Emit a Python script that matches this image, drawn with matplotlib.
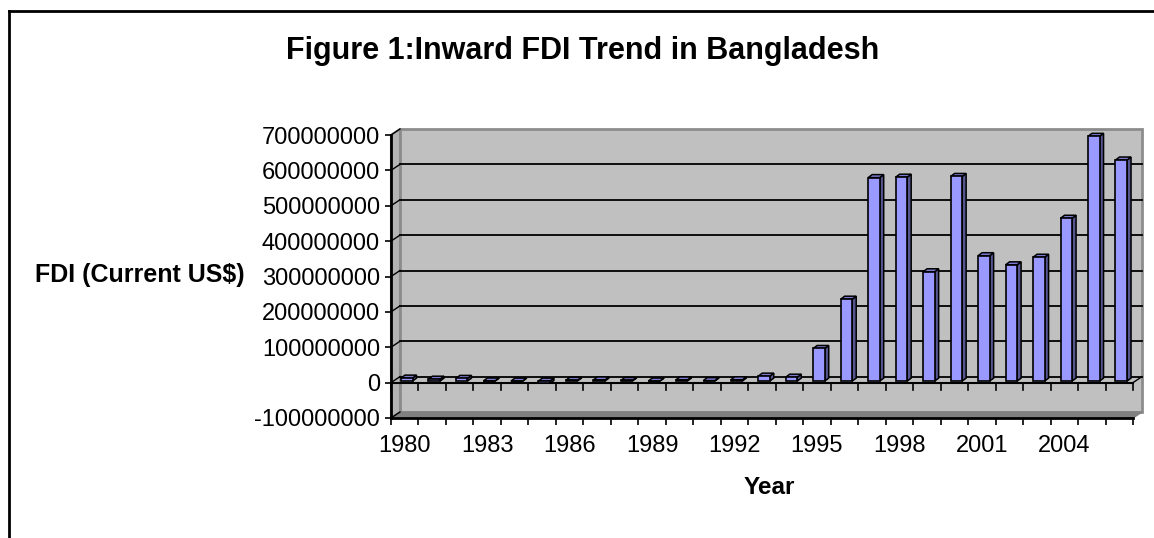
import matplotlib
matplotlib.use('Agg')
import matplotlib.pyplot as plt
from matplotlib.patches import Polygon
from matplotlib.lines import Line2D
from matplotlib.transforms import IdentityTransform, offset_copy
from matplotlib.ticker import FuncFormatter, FixedLocator

plt.rcParams['font.family'] = ['Liberation Sans', 'DejaVu Sans']

# Data (US$)
years = list(range(1980, 2007))
fdi = [8.51e6, 5.41e6, 7.67e6, 0.39e6, -0.42e6, -6.68e6, 2.44e6, 3.25e6, 1.82e6,
       0.25e6, 3.24e6, 1.39e6, 3.72e6, 14.05e6, 11.15e6, 92.3e6, 231.6e6,
       575.3e6, 576.5e6, 309.1e6, 578.6e6, 354.5e6, 328.7e6, 350.2e6,
       460.4e6, 692.0e6, 625.0e6]
yticks = [-100000000, 0, 100000000, 200000000, 300000000, 400000000,
          500000000, 600000000, 700000000]
xtick_years = years[::3]

W, H = 1154, 538
fig = plt.figure(figsize=(W / 100, H / 100), dpi=100)
ax = fig.add_axes([391 / W, 1 - 418 / H, (1133 - 391) / W, (418 - 135) / H])
n = len(years)
x0, x1 = -0.5, n - 0.5
y0, y1 = yticks[0], yticks[-1]
ax.set_xlim(x0, x1)
ax.set_ylim(y0, y1)
ax.patch.set_visible(False)

# 3D offsets in pixels
BACK = (9, 6)
BAR_F = (2, 1.5)
BAR_B = (6, 4.5)


def disp(x, y, off=(0, 0)):
    px, py = ax.transData.transform((x, y))
    return (px + off[0], py + off[1])


def poly(pts, fc, ec, lw=1.0, z=1):
    p = Polygon(pts, closed=True, facecolor=fc, edgecolor=ec, linewidth=lw,
                transform=IdentityTransform(), clip_on=False, zorder=z)
    ax.add_patch(p)


def seg(a, b, color='black', lw=1.2, z=2):
    ax.add_line(Line2D([a[0], b[0]], [a[1], b[1]], color=color, linewidth=lw,
                       transform=IdentityTransform(), clip_on=False, zorder=z))


# back wall
poly([disp(x0, y0, BACK), disp(x1, y0, BACK), disp(x1, y1, BACK), disp(x0, y1, BACK)],
     '#C0C0C0', '#8C8C8C', lw=2, z=0.5)
# left side wall
poly([disp(x0, y0), disp(x0, y1), disp(x0, y1, BACK), disp(x0, y0, BACK)],
     '#B4B4B4', '#8C8C8C', lw=1.5, z=0.6)
# floor
poly([disp(x0, y0), disp(x1, y0), disp(x1, y0, BACK), disp(x0, y0, BACK)],
     '#808080', '#808080', lw=1, z=0.6)

# gridlines on the wall and diagonals on the side wall
for v in yticks[1:-1]:
    seg(disp(x0, v, BACK), disp(x1, v, BACK), lw=1.3, z=0.8)
for v in yticks:
    seg(disp(x0, v), disp(x0, v, BACK), lw=1.0, z=0.8)

# zero plane
seg(disp(x0, 0), disp(x1, 0), lw=1.5, z=0.9)
seg(disp(x1, 0), disp(x1, 0, BACK), lw=1.0, z=0.9)
for k in range(n + 1):
    px, py = disp(k - 0.5, 0)
    seg((px, py), (px, py - 7), lw=1.2, z=0.9)

# bars: front faces through ax.bar, sides and tops as polygons
bw = 0.42
front_tr = offset_copy(ax.transData, fig=fig, x=BAR_F[0], y=BAR_F[1], units='dots')
ax.bar(range(n), fdi, width=bw, color='#9999FF', edgecolor='black',
       linewidth=1.2, transform=front_tr, zorder=3)
for i, v in enumerate(fdi):
    top = max(v, 0)
    bot = min(v, 0)
    xl, xr = i - bw / 2, i + bw / 2
    poly([disp(xr, bot, BAR_F), disp(xr, top, BAR_F), disp(xr, top, BAR_B), disp(xr, bot, BAR_B)],
         '#55558F', 'black', lw=1.1, z=2.9)
    poly([disp(xl, top, BAR_F), disp(xr, top, BAR_F), disp(xr, top, BAR_B), disp(xl, top, BAR_B)],
         '#7B7BD0', 'black', lw=1.1, z=2.9)

# axes styling
for side in ['top', 'right']:
    ax.spines[side].set_visible(False)
ax.spines['left'].set_linewidth(2)
ax.spines['bottom'].set_linewidth(2)
ax.spines['left'].set_zorder(4)
ax.spines['bottom'].set_zorder(4)

ax.set_yticks(yticks)
ax.yaxis.set_major_formatter(FuncFormatter(lambda v, p: '%d' % v))
ax.tick_params(axis='y', direction='out', length=4.5, width=1.2, pad=3.5, labelsize=17)

ax.set_xticks([years.index(y) for y in xtick_years])
ax.set_xticklabels([str(y) for y in xtick_years])
ax.xaxis.set_minor_locator(FixedLocator([k - 0.5 for k in range(n + 1)]))
ax.tick_params(axis='x', which='major', length=0, pad=12, labelsize=17)
ax.tick_params(axis='x', which='minor', direction='out', length=5, width=1.2)

# texts
fig.text(583 / W, 1 - 51 / H, 'Figure 1:Inward FDI Trend in Bangladesh',
         fontsize=22, fontweight='bold', ha='center', va='center')
fig.text(140 / W, 1 - 275 / H, 'FDI (Current US$)', fontsize=18,
         fontweight='bold', ha='center', va='center')
fig.text(769 / W, 1 - 487 / H, 'Year', fontsize=17.5, fontweight='bold',
         ha='center', va='center')

# outer frame (left and top edges only)
fig.add_artist(Line2D([9 / W, 9 / W], [0, 1 - 11 / H], color='black', linewidth=2))
fig.add_artist(Line2D([9 / W, 1], [1 - 11 / H, 1 - 11 / H], color='black', linewidth=2))

fig.savefig('out.png', dpi=100)
